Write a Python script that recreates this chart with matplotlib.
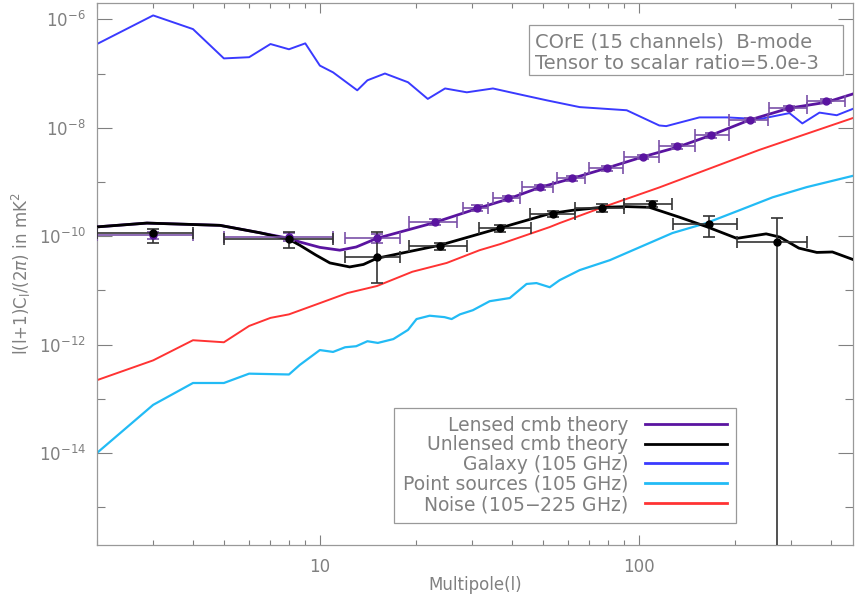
import numpy as np
import matplotlib.pyplot as plt
from matplotlib.patches import Rectangle

# multipoles and spectra l(l+1)C_l/(2pi) [mK^2]
l_lens = [2, 2.87, 4.86, 6.5, 8, 8.65, 10, 11.55, 13, 15.1, 22.6, 31, 38.8, 48.9,
          62.2, 79.4, 103, 132.6, 169, 222, 297, 388, 476]
cl_lens = [1.48e-10, 1.74e-10, 1.58e-10, 1.15e-10, 9.1e-11, 7.8e-11, 6.2e-11, 5.5e-11,
           6.3e-11, 9.1e-11, 1.74e-10, 3.2e-10, 4.8e-10, 7.9e-10, 1.17e-9, 1.8e-9,
           2.9e-9, 4.4e-9, 7.3e-9, 1.38e-8, 2.3e-8, 2.95e-8, 4.3e-8]

l_unl = [2, 2.87, 4.86, 6.5, 8, 8.65, 9.7, 10.75, 12.4, 13.7, 15.1, 23.8, 36.7, 52.6,
         62.2, 76.6, 91.6, 108, 134, 164, 203, 251, 277, 318, 362, 405, 476]
cl_unl = [1.48e-10, 1.74e-10, 1.58e-10, 1.15e-10, 8.7e-11, 6.8e-11, 4.5e-11, 3.2e-11,
          2.7e-11, 3.0e-11, 3.9e-11, 6.8e-11, 1.41e-10, 2.6e-10, 3.0e-10, 3.4e-10,
          3.5e-10, 3.4e-10, 2.24e-10, 1.48e-10, 9.1e-11, 1.1e-10, 9.6e-11, 6.0e-11,
          5.0e-11, 5.1e-11, 3.6e-11]

l_gal = [2, 3, 4, 5, 6, 7, 8, 9, 10, 11, 13.1, 14.1, 16, 18.9, 21.8, 24.7, 28.9, 34.9,
         43.3, 51.5, 65.3, 91.7, 116, 122, 155, 189, 239, 297, 326, 369, 418, 476]
cl_gal = [3.5e-7, 1.18e-6, 6.6e-7, 1.9e-7, 2.0e-7, 3.5e-7, 2.8e-7, 3.6e-7, 1.4e-7,
          1.05e-7, 4.9e-8, 7.5e-8, 1.0e-7, 6.9e-8, 3.4e-8, 5.3e-8, 4.5e-8, 5.3e-8,
          4.0e-8, 3.2e-8, 2.4e-8, 2.1e-8, 1.1e-8, 1.07e-8, 1.55e-8, 1.55e-8, 1.44e-8,
          1.86e-8, 1.2e-8, 1.9e-8, 1.7e-8, 2.3e-8]

l_ps = [2, 3, 4, 5, 6, 8, 8.65, 10, 11, 12, 13, 14.1, 15.2, 17, 18.9, 20.1, 22.1, 24.6,
        25.9, 27.5, 30.2, 34.1, 39.4, 44.5, 47.8, 52.6, 56.5, 65.3, 81.2, 127.6, 163,
        207, 263, 336, 476]
cl_ps = [1e-14, 7.7e-14, 1.95e-13, 1.95e-13, 2.9e-13, 2.8e-13, 4.2e-13, 7.9e-13, 7.3e-13,
         8.9e-13, 9.3e-13, 1.15e-12, 1.07e-12, 1.26e-12, 1.86e-12, 2.95e-12, 3.4e-12,
         3.2e-12, 2.95e-12, 3.6e-12, 4.3e-12, 6.3e-12, 7.2e-12, 1.31e-11, 1.36e-11,
         1.14e-11, 1.54e-11, 2.36e-11, 3.6e-11, 1.14e-10, 1.74e-10, 3.0e-10, 5.2e-10,
         8.0e-10, 1.32e-9]

l_noise = [2, 3, 4, 5, 6, 7, 8, 10, 12.2, 15.1, 19.5, 25, 31.7, 36.7, 52.6, 56.5, 77,
           116, 239, 476]
cl_noise = [2.2e-13, 5.1e-13, 1.2e-12, 1.1e-12, 2.2e-12, 3.1e-12, 3.6e-12, 5.8e-12,
            8.9e-12, 1.2e-11, 2.2e-11, 3.2e-11, 5.5e-11, 7.1e-11, 1.47e-10, 1.74e-10,
            3.4e-10, 7.9e-10, 3.9e-9, 1.55e-8]

# binned lensed band powers: centre, bin edges, value, lower/upper bounds
lb_lens = [3, 8, 15.1, 22.9, 31, 38.8, 48.9, 61.7, 79.4, 103, 132, 169, 223, 295, 388]
lb_lens_lo = [2, 5, 12, 19.1, 28.1, 34.8, 43, 55.4, 69.8, 90.2, 116, 150, 192, 257, 337]
lb_lens_hi = [4, 11, 17.8, 26.9, 33.6, 42.4, 54, 67.7, 89, 116, 150, 192, 254, 337, 444]
db_lens = [1.05e-10, 9.6e-11, 9.1e-11, 1.82e-10, 3.3e-10, 5.0e-10, 7.9e-10, 1.17e-9,
           1.8e-9, 2.9e-9, 4.6e-9, 7.3e-9, 1.38e-8, 2.3e-8, 3.1e-8]
db_lens_min = [9.0e-11, 8.0e-11, 7.6e-11, 1.6e-10, 2.9e-10, 4.4e-10, 7.0e-10, 1.04e-9,
               1.6e-9, 2.6e-9, 4.1e-9, 6.5e-9, 1.25e-8, 2.1e-8, 2.8e-8]
db_lens_max = [1.2e-10, 1.14e-10, 1.1e-10, 2.05e-10, 3.7e-10, 5.6e-10, 8.8e-10, 1.3e-9,
               2.0e-9, 3.2e-9, 5.1e-9, 8.1e-9, 1.52e-8, 2.5e-8, 3.4e-8]

# binned unlensed band powers
lb_unl = [3, 8, 15.1, 23.8, 36.7, 53.7, 76.6, 110, 166, 271]
lb_unl_lo = [2, 5, 12, 19.1, 31.5, 45.5, 63, 90, 128, 203]
lb_unl_hi = [4, 11, 17.8, 28.9, 46, 63, 90, 127, 203, 337]
db_unl = [1.15e-10, 9.0e-11, 4.1e-11, 6.6e-11, 1.41e-10, 2.6e-10, 3.3e-10, 3.9e-10,
          1.66e-10, 7.8e-11]
db_unl_min = [7.4e-11, 6.0e-11, 1.35e-11, 5.6e-11, 1.2e-10, 2.3e-10, 2.8e-10, 3.4e-10,
              9.5e-11, 1e-20]
db_unl_max = [1.35e-10, 1.17e-10, 1.17e-10, 7.6e-11, 1.6e-10, 2.9e-10, 3.9e-10, 4.4e-10,
              2.33e-10, 2.2e-10]

c_lens = '#5a14a0'
c_unl = 'black'
c_gal = '#3a3aff'
c_ps = '#22bbf5'
c_noise = '#ff3333'
grey = '#808080'

plt.rcParams['font.family'] = 'DejaVu Sans'
plt.rcParams['font.size'] = 12

fig = plt.figure(figsize=(8.55, 6.06), dpi=100)
ax = fig.add_axes([97/855, 61/606, 756/855, 542/606])

ax.plot(l_lens, cl_lens, color=c_lens, lw=2, label='Lensed cmb theory', zorder=4)
ax.plot(l_unl, cl_unl, color=c_unl, lw=2, label='Unlensed cmb theory', zorder=4)
ax.plot(l_gal, cl_gal, color=c_gal, lw=1.4, label='Galaxy (105 GHz)')
ax.plot(l_ps, cl_ps, color=c_ps, lw=1.6, label='Point sources (105 GHz)')
ax.plot(l_noise, cl_noise, color=c_noise, lw=1.4, label='Noise (105$-$225 GHz)')

def band(lc, llo, lhi, v, vmin, vmax, col, ecol):
    lc, v = np.array(lc), np.array(v)
    xe = [lc - np.array(llo), np.array(lhi) - lc]
    ye = [v - np.array(vmin), np.array(vmax) - v]
    ax.errorbar(lc, v, xerr=xe, yerr=ye, fmt='o', ms=5, color=col, ecolor=ecol,
                elinewidth=1.2, capsize=4, capthick=1.2, zorder=5)

band(lb_lens, lb_lens_lo, lb_lens_hi, db_lens, db_lens_min, db_lens_max,
     c_lens, '#7a50a8')
band(lb_unl, lb_unl_lo, lb_unl_hi, db_unl, db_unl_min, db_unl_max,
     'black', '#333333')

ax.set_xscale('log')
ax.set_yscale('log')
ax.set_xlim(2, 470)
ax.set_ylim(2e-16, 2e-6)

ax.set_xticks([10, 100])
ax.set_xticklabels(['10', '100'])
ax.set_xticks([2, 3, 4, 5, 6, 7, 8, 9, 20, 30, 40, 50, 60, 70, 80, 90, 200, 300, 400],
              minor=True)
ax.set_xticklabels([], minor=True)
ax.set_yticks([1e-14, 1e-12, 1e-10, 1e-8, 1e-6])
ax.set_yticks([1e-15, 1e-13, 1e-11, 1e-9, 1e-7], minor=True)
ax.set_yticklabels([], minor=True)

ax.tick_params(which='both', direction='in', top=True, right=True, colors=grey,
               labelcolor=grey, labelsize=12, width=0.8)
ax.tick_params(axis='x', which='major', length=7.2, pad=9)
ax.tick_params(axis='x', which='minor', length=3.6)
ax.tick_params(axis='y', which='major', length=10.5, pad=8)
ax.tick_params(axis='y', which='minor', length=5.8)
for s in ax.spines.values():
    s.set_color('#999999')
    s.set_linewidth(0.9)

ax.set_xlabel('Multipole(l)', color=grey, fontsize=12, labelpad=0)
ax.set_ylabel(r'l(l+1)C$_\mathrm{l}$/(2$\pi$) in mK$^2$', color=grey, fontsize=12,
              labelpad=4)

# info box
ax.add_patch(Rectangle((0.5714, 0.8672), 0.4153, 0.0923, transform=ax.transAxes,
                       fc='white', ec='#999999', lw=0.9, zorder=6))
ax.text(0.579, 0.928, 'COrE (15 channels)  B-mode', transform=ax.transAxes,
        color=grey, fontsize=14, va='center', ha='left', zorder=7)
ax.text(0.579, 0.889, 'Tensor to scalar ratio=5.0e-3', transform=ax.transAxes,
        color=grey, fontsize=14, va='center', ha='left', zorder=7)

leg = ax.legend(loc='lower right', bbox_to_anchor=(0.845, 0.0406), borderaxespad=0,
                markerfirst=False, fontsize=13.5, handlelength=4.4, handletextpad=0.9,
                labelspacing=0.02, borderpad=0.45, fancybox=False, framealpha=1,
                edgecolor='#999999')
leg.get_frame().set_linewidth(0.9)
for t in leg.get_texts():
    t.set_color(grey)
for h in leg.get_lines():
    h.set_linewidth(2)

fig.savefig('out.png', dpi=100)
